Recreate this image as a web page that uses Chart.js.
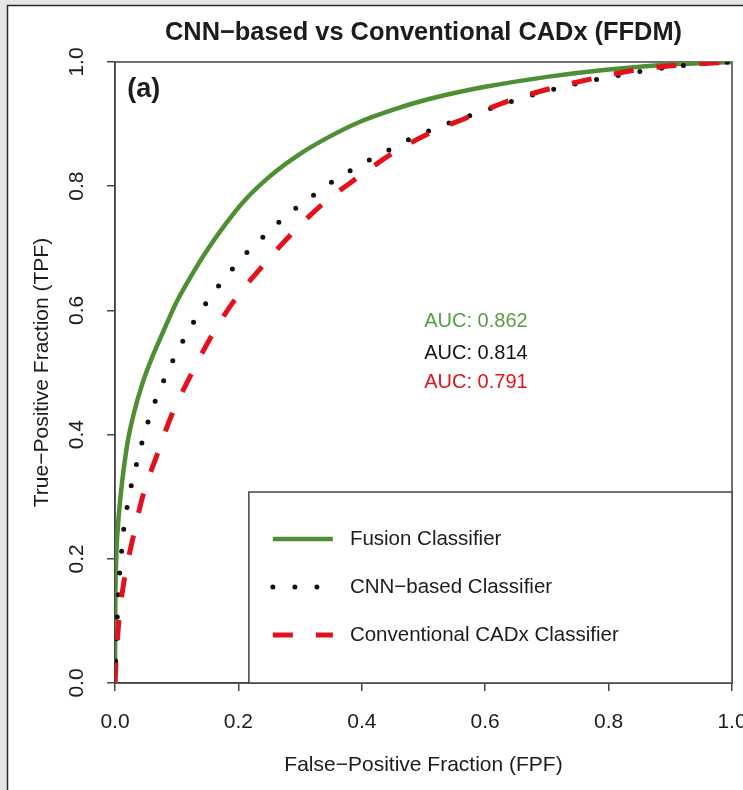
<!DOCTYPE html>
<html>
<head>
<meta charset="utf-8">
<title>CNN-based vs Conventional CADx (FFDM)</title>
<script src="https://cdn.jsdelivr.net/npm/chart.js@4/dist/chart.umd.min.js"></script>
<style>
  html, body { margin: 0; padding: 0; background: #e6e6e6; }
  canvas { display: block; }
</style>
</head>
<body>
<canvas id="roc" width="743" height="790"></canvas>
<script>
const FONT = '"Liberation Sans", Arial, Helvetica, sans-serif';

// Axis ticks (shared by both axes)
const tickValues = [0, 0.2, 0.4, 0.6, 0.8, 1.0];

// Series names and their AUC values
const seriesNames = ['Fusion Classifier', 'CNN\u2212based Classifier', 'Conventional CADx Classifier'];
const aucValues = [0.862, 0.814, 0.791];

// Fusion classifier ROC curve
const fusionFPF = [0, 0.0005, 0.002, 0.005, 0.010, 0.020, 0.030, 0.045, 0.060, 0.080, 0.100, 0.125, 0.150, 0.180, 0.210, 0.250, 0.300, 0.350, 0.400, 0.450, 0.500, 0.550, 0.600, 0.700, 0.800, 0.900, 1.0];
const fusionTPF = [0, 0.120, 0.200, 0.255, 0.310, 0.385, 0.432, 0.484, 0.524, 0.570, 0.614, 0.658, 0.698, 0.740, 0.777, 0.815, 0.852, 0.881, 0.905, 0.923, 0.938, 0.950, 0.960, 0.976, 0.988, 0.996, 1.0];

// CNN-based classifier ROC curve
const cnnFPF = [0, 0.002, 0.005, 0.007, 0.010, 0.013, 0.018, 0.024, 0.032, 0.041, 0.050, 0.061, 0.074, 0.088, 0.104, 0.120, 0.139, 0.159, 0.181, 0.204, 0.228, 0.254, 0.280, 0.308, 0.337, 0.365, 0.395, 0.426, 0.457, 0.489, 0.522, 0.556, 0.588, 0.621, 0.653, 0.689, 0.723, 0.757, 0.791, 0.825, 0.859, 0.895, 0.929, 0.964, 1.0];
const cnnTPF = [0, 0.065, 0.134, 0.169, 0.203, 0.238, 0.273, 0.307, 0.341, 0.377, 0.409, 0.443, 0.475, 0.507, 0.539, 0.569, 0.599, 0.628, 0.655, 0.683, 0.707, 0.731, 0.755, 0.775, 0.797, 0.815, 0.833, 0.849, 0.865, 0.881, 0.894, 0.907, 0.918, 0.929, 0.940, 0.950, 0.959, 0.967, 0.974, 0.980, 0.986, 0.991, 0.995, 0.998, 1.0];

// Conventional CADx classifier ROC curve
const cadxFPF = [0, 0.002, 0.006, 0.015, 0.029, 0.045, 0.068, 0.092, 0.123, 0.156, 0.194, 0.238, 0.284, 0.335, 0.392, 0.450, 0.511, 0.572, 0.637, 0.705, 0.773, 0.843, 0.911, 1.0];
const cadxTPF = [0, 0.040, 0.097, 0.166, 0.233, 0.301, 0.367, 0.432, 0.496, 0.558, 0.617, 0.670, 0.721, 0.770, 0.813, 0.853, 0.886, 0.911, 0.937, 0.957, 0.973, 0.987, 0.995, 1.0];

const GREEN = '#4e8f36';
const BLACK = '#111111';
const RED = '#e3111b';
const aucColors = ['#5a9c44', '#151515', '#e0141e'];
const AXIS = '#444444';
const TEXT = '#1c1c1c';

const toPoints = (xs, ys) => xs.map((x, i) => ({ x: x, y: ys[i] }));

// Page panel: grey margin with a framed white sheet
const panelPlugin = {
  id: 'panel',
  beforeDraw(chart) {
    const { ctx, width, height } = chart;
    ctx.save();
    ctx.fillStyle = '#e6e6e6';
    ctx.fillRect(0, 0, width, height);
    ctx.fillStyle = '#ffffff';
    ctx.fillRect(7, 5, width - 7, height - 5);
    ctx.strokeStyle = '#2a2a2a';
    ctx.lineWidth = 1.5;
    ctx.beginPath();
    ctx.moveTo(7.5, height);
    ctx.lineTo(7.5, 5.5);
    ctx.lineTo(width, 5.5);
    ctx.stroke();
    ctx.restore();
  }
};

// Box around the plotting region
const plotBoxPlugin = {
  id: 'plotBox',
  beforeDatasetsDraw(chart) {
    const { ctx, chartArea: a } = chart;
    ctx.save();
    ctx.strokeStyle = AXIS;
    ctx.lineWidth = 1.5;
    ctx.strokeRect(a.left, a.top, a.right - a.left, a.bottom - a.top);
    ctx.restore();
  }
};

// Panel label, AUC values and the boxed legend
const notesPlugin = {
  id: 'notes',
  afterDatasetsDraw(chart) {
    const { ctx, chartArea: a } = chart;
    const xs = chart.scales.x, ys = chart.scales.y;
    ctx.save();

    // panel tag
    ctx.font = 'bold 27px ' + FONT;
    ctx.fillStyle = TEXT;
    ctx.textAlign = 'left';
    ctx.textBaseline = 'middle';
    ctx.fillText('(a)', xs.getPixelForValue(0.02), ys.getPixelForValue(0.956));

    // AUC annotations
    ctx.font = '20px ' + FONT;
    ctx.textAlign = 'center';
    const aucY = [0.582, 0.531, 0.484];
    aucValues.forEach((v, i) => {
      ctx.fillStyle = aucColors[i];
      ctx.fillText('AUC: ' + v.toFixed(3), xs.getPixelForValue(0.585), ys.getPixelForValue(aucY[i]));
    });

    // legend box
    const lx = xs.getPixelForValue(0.217);
    const ly = ys.getPixelForValue(0.3075);
    ctx.fillStyle = '#ffffff';
    ctx.fillRect(lx, ly, a.right - lx, a.bottom - ly);
    ctx.strokeStyle = AXIS;
    ctx.lineWidth = 1.5;
    ctx.strokeRect(lx, ly, a.right - lx, a.bottom - ly);

    const rows = [ly + 47, ly + 95, ly + 143];
    const sampleL = lx + 24, sampleR = lx + 84, textX = lx + 101;
    chart.data.datasets.forEach((ds, i) => {
      const y = rows[i];
      ctx.beginPath();
      ctx.strokeStyle = ds.borderColor;
      ctx.lineWidth = ds.borderWidth;
      ctx.lineCap = ds.borderCapStyle || 'butt';
      ctx.setLineDash(ds.borderDash || []);
      ctx.moveTo(sampleL, y);
      ctx.lineTo(sampleR, y);
      ctx.stroke();
      ctx.setLineDash([]);
      ctx.fillStyle = TEXT;
      ctx.font = '20.5px ' + FONT;
      ctx.textAlign = 'left';
      ctx.textBaseline = 'middle';
      ctx.fillText(ds.label, textX, y);
    });
    ctx.restore();
  }
};

const tickOpts = (extra) => Object.assign({
  autoSkip: false,
  color: TEXT,
  font: { family: FONT, size: 21 },
  callback: (v) => Number(v).toFixed(1)
}, extra);

new Chart(document.getElementById('roc'), {
  type: 'line',
  data: {
    datasets: [
      {
        label: seriesNames[0],
        data: toPoints(fusionFPF, fusionTPF),
        borderColor: GREEN,
        borderWidth: 4.5,
        borderCapStyle: 'butt',
        order: 2
      },
      {
        label: seriesNames[1],
        data: toPoints(cnnFPF, cnnTPF),
        borderColor: BLACK,
        borderWidth: 5,
        borderDash: [0, 22],
        borderCapStyle: 'round',
        order: 1
      },
      {
        label: seriesNames[2],
        data: toPoints(cadxFPF, cadxTPF),
        borderColor: RED,
        borderWidth: 5,
        borderDash: [20, 23],
        borderCapStyle: 'butt',
        order: 0
      }
    ]
  },
  options: {
    responsive: false,
    animation: false,
    devicePixelRatio: 1,
    layout: { padding: { top: 0, left: 0, right: 11, bottom: 0 } },
    elements: {
      point: { radius: 0 },
      line: { fill: false, cubicInterpolationMode: 'monotone' }
    },
    plugins: {
      legend: { display: false },
      tooltip: { enabled: false },
      title: {
        display: true,
        fullSize: false,
        text: 'CNN\u2212based vs Conventional CADx (FFDM)',
        color: TEXT,
        font: { family: FONT, size: 25.4, weight: 'bold' },
        padding: { top: 17.8, bottom: 13.7 }
      }
    },
    scales: {
      x: {
        type: 'linear',
        position: 'bottom',
        min: 0,
        max: 1,
        afterBuildTicks: (s) => { s.ticks = tickValues.map(v => ({ value: v })); },
        afterFit: (s) => { s.height = 107; s.paddingLeft = 0; s.paddingRight = 0; },
        ticks: tickOpts({ padding: 19, minRotation: 0, maxRotation: 0 }),
        grid: { drawOnChartArea: false, drawTicks: true, tickLength: 8, color: AXIS, lineWidth: 1.5 },
        border: { display: true, color: AXIS, width: 1.5 },
        title: {
          display: true,
          text: 'False\u2212Positive Fraction (FPF)',
          color: TEXT,
          font: { family: FONT, size: 21 },
          padding: { top: 0, bottom: 12 }
        }
      },
      y: {
        type: 'linear',
        position: 'left',
        min: 0,
        max: 1,
        afterBuildTicks: (s) => { s.ticks = tickValues.map(v => ({ value: v })); },
        afterFit: (s) => { s.width = 115; s.paddingTop = 0; s.paddingBottom = 0; },
        ticks: tickOpts({ padding: 15, minRotation: 90, maxRotation: 90, crossAlign: 'center' }),
        grid: { drawOnChartArea: false, drawTicks: true, tickLength: 8, color: AXIS, lineWidth: 1.5 },
        border: { display: true, color: AXIS, width: 1.5 },
        title: {
          display: true,
          text: 'True\u2212Positive Fraction (TPF)',
          color: TEXT,
          font: { family: FONT, size: 21 },
          padding: { top: 30, bottom: 0 }
        }
      }
    }
  },
  plugins: [panelPlugin, plotBoxPlugin, notesPlugin]
});
</script>
</body>
</html>
